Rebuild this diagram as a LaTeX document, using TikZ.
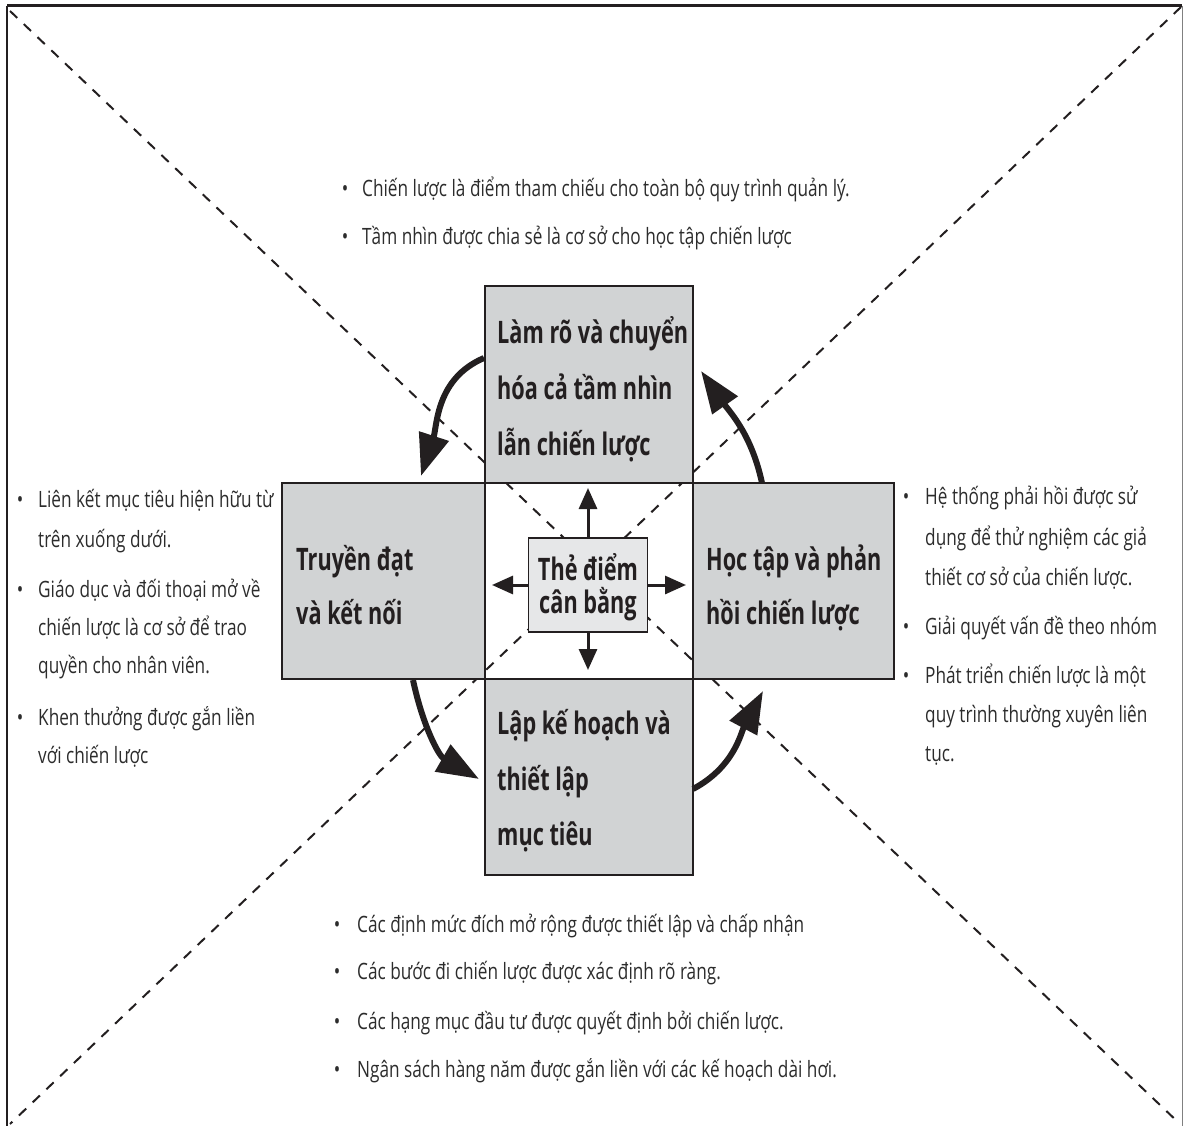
\documentclass[tikz,border=0pt]{standalone}
\usepackage{fontspec}
\setmainfont{Open Sans}[FakeStretch=0.765]
\newfontfamily\headfont{Open Sans}[FakeStretch=0.70]
\usetikzlibrary{arrows.meta}
\definecolor{boxgrey}{HTML}{D1D3D4}
\definecolor{centergrey}{HTML}{E6E7E8}
\definecolor{ink}{HTML}{231F20}
\definecolor{textgrey}{HTML}{2C2C2C}
\begin{document}
\begin{tikzpicture}[x=1pt,y=-1pt,
  stagebox/.style={draw=ink, line width=1.4pt, fill=boxgrey, inner sep=0pt},
  hubbox/.style={draw=ink, line width=1.4pt, fill=centergrey, inner sep=0pt,
    minimum width=119pt, minimum height=94pt},
  diag/.style={draw=ink, line width=2pt, dash pattern=on 10pt off 9pt},
  cyclearrow/.style={draw=ink, line width=6pt, -{Triangle[length=42pt,width=30pt]}},
  hubarrow/.style={draw=ink, line width=3pt, -{Triangle[length=21pt,width=18pt]}},
  headline/.style={anchor=base west, inner sep=0pt, text=ink,
    font=\headfont\bfseries\fontsize{31}{35}\selectfont},
  hubline/.style={anchor=base, inner sep=0pt, text=ink,
    font=\headfont\bfseries\fontsize{31}{35}\selectfont},
  itemline/.style={anchor=base west, inner sep=0pt, text=textgrey,
    font=\fontsize{22.5}{26}\selectfont},
  dot/.style={anchor=base, inner sep=0pt, text=textgrey,
    font=\fontsize{22.5}{26}\selectfont}
]
\useasboundingbox (0,0) rectangle (1184,1126);

% outer frame
\coordinate (tl) at (7,6);
\coordinate (tr) at (1182,6);
\coordinate (bl) at (7,1126);
\coordinate (br) at (1182,1126);
\draw[ink, line width=3pt] (tl) -- (tr);
\draw[ink, line width=2pt] (tl) -- (bl);
\draw[gray, line width=1pt] (tr) -- (br);

% dashed diagonals
\coordinate (d1) at (10,11);
\coordinate (d2) at (1180,1124);
\coordinate (d3) at (1181,7);
\coordinate (d4) at (10,1124);
\draw[diag] (d1) -- (d2);
\draw[diag] (d3) -- (d4);

% the four stages
\node[stagebox, minimum width=208pt, minimum height=197pt] (top) at (589,384.5) {};
\node[stagebox, minimum width=203pt, minimum height=196pt] (left) at (383.5,581) {};
\node[stagebox, minimum width=201pt, minimum height=196pt] (right) at (793.5,581) {};
\node[stagebox, minimum width=208pt, minimum height=196pt] (bottom) at (589,777) {};

\node[headline] (t1) at (497,343) {Làm rõ và chuyển};
\node[headline] (t2) at (497,399) {hóa cả tầm nhìn};
\node[headline] (t3) at (497,455) {lẫn chiến lược};

\node[headline] (l1) at (296,570) {Truyền đạt};
\node[headline] (l2) at (296,624) {và kết nối};

\node[headline] (r1) at (706,570) {Học tập và phản};
\node[headline] (r2) at (706,624) {hồi chiến lược};

\node[headline] (b1) at (497,734) {Lập kế hoạch và};
\node[headline] (b2) at (497,790) {thiết lập};
\node[headline] (b3) at (497,845) {mục tiêu};

% central scorecard
\node[hubbox] (hub) at (588,585) {};
\node[hubline] (h1) at (588,580) {Thẻ điểm};
\node[hubline] (h2) at (588,613) {cân bằng};

\coordinate (hu) at (588,488);
\coordinate (hd) at (588,670);
\coordinate (hl) at (492,585);
\coordinate (hr) at (686,585);
\draw[hubarrow] (hub.north) -- (hu);
\draw[hubarrow] (hub.south) -- (hd);
\draw[hubarrow] (hub.west) -- (hl);
\draw[hubarrow] (hub.east) -- (hr);

% cycle arrows between the stages
\coordinate (a1s) at (484,358);
\coordinate (a1e) at (421,476);
\coordinate (a2s) at (762,483);
\coordinate (a2e) at (701,371);
\coordinate (a3s) at (413,680);
\coordinate (a3e) at (479,779);
\coordinate (a4s) at (693,789);
\coordinate (a4e) at (763,691);
\draw[cyclearrow] (a1s) to[out=203,in=72] (a1e);
\draw[cyclearrow] (a2s) to[out=102,in=-55] (a2e);
\draw[cyclearrow] (a3s) to[out=-78,in=150] (a3e);
\draw[cyclearrow] (a4s) to[out=28,in=-118] (a4e);

% notes above
\node[dot] (nt1) at (345,197) {•};
\node[itemline] (tt1) at (362,197) {Chiến lược là điểm tham chiếu cho toàn bộ quy trình quản lý.};
\node[dot] (nt2) at (345,245) {•};
\node[itemline] (tt2) at (362,245) {Tầm nhìn được chia sẻ là cơ sở cho học tập chiến lược};

% notes on the left
\node[dot] (nl1) at (20,507) {•};
\node[itemline] (ll1) at (38,507) {Liên kết mục tiêu hiện hữu từ};
\node[itemline] (ll2) at (38,547) {trên xuống dưới.};
\node[dot] (nl2) at (20,597) {•};
\node[itemline] (ll3) at (38,597) {Giáo dục và đối thoại mở về};
\node[itemline] (ll4) at (38,635) {chiến lược là cơ sở để trao};
\node[itemline] (ll5) at (38,673) {quyền cho nhân viên.};
\node[dot] (nl3) at (20,725) {•};
\node[itemline] (ll6) at (38,725) {Khen thưởng được gắn liền};
\node[itemline] (ll7) at (38,763) {với chiến lược};

% notes on the right
\node[dot] (nr1) at (906,504) {•};
\node[itemline] (rr1) at (925,504) {Hệ thống phải hồi được sử};
\node[itemline] (rr2) at (925,545) {dụng để thử nghiệm các giả};
\node[itemline] (rr3) at (925,585) {thiết cơ sở của chiến lược.};
\node[dot] (nr2) at (906,634) {•};
\node[itemline] (rr4) at (925,634) {Giải quyết vấn đề theo nhóm};
\node[dot] (nr3) at (906,683) {•};
\node[itemline] (rr5) at (925,683) {Phát triển chiến lược là một};
\node[itemline] (rr6) at (925,722) {quy trình thường xuyên liên};
\node[itemline] (rr7) at (925,761) {tục.};

% notes below
\node[dot] (nb1) at (337,932) {•};
\node[itemline] (bb1) at (357,932) {Các định mức đích mở rộng được thiết lập và chấp nhận};
\node[dot] (nb2) at (337,979) {•};
\node[itemline] (bb2) at (357,979) {Các bước đi chiến lược được xác định rõ ràng.};
\node[dot] (nb3) at (337,1029) {•};
\node[itemline] (bb3) at (357,1029) {Các hạng mục đầu tư được quyết định bởi chiến lược.};
\node[dot] (nb4) at (337,1077) {•};
\node[itemline] (bb4) at (357,1077) {Ngân sách hàng năm được gắn liền với các kế hoạch dài hơi.};
\end{tikzpicture}
\end{document}
